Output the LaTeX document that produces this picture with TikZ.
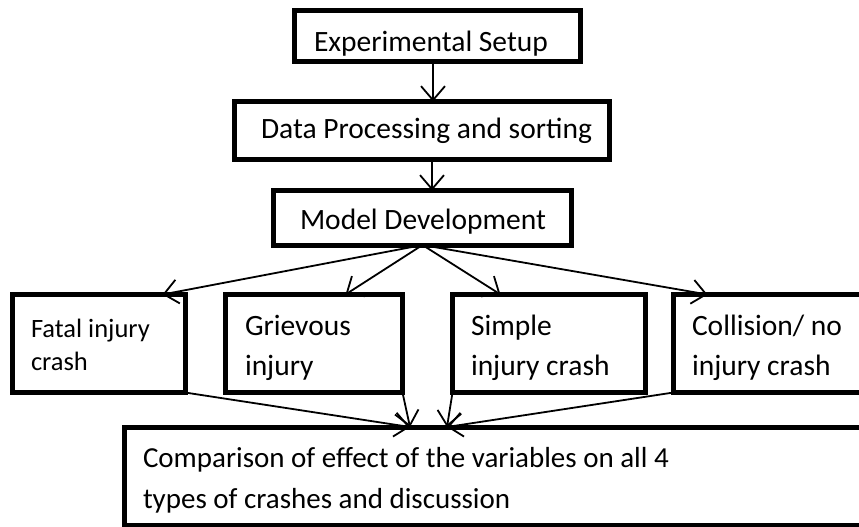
\documentclass[tikz,border=0pt]{standalone}
\usepackage{fontspec}
\setmainfont{Carlito}
\usetikzlibrary{arrows.meta}
\tikzset{
  box/.style={draw=black, line width=5pt, rectangle, inner sep=0pt, outer sep=0pt},
  lbl/.style={anchor=base west, inner sep=0pt, outer sep=0pt, font=\fontsize{29.5}{35}\selectfont},
  lblbot/.style={anchor=base west, inner sep=0pt, outer sep=0pt, font=\fontsize{29}{35}\selectfont},
  lblsm/.style={anchor=base west, inner sep=0pt, outer sep=0pt, font=\fontsize{26.5}{32}\selectfont},
  arr/.style={line width=1.8pt, -{Straight Barb[length=14pt,width=24pt,line width=1.8pt]}},
}
\begin{document}
\begin{tikzpicture}[x=1pt,y=-1pt]
\useasboundingbox (0,0) rectangle (859,527);
\clip (0,0) rectangle (859,527);
% boxes
\node[box, minimum width=286pt, minimum height=51pt] (setup) at (437.5,36) {};
\node[box, minimum width=375pt, minimum height=58pt] (data) at (421.5,130.5) {};
\node[box, minimum width=298pt, minimum height=54.5pt] (model) at (422.5,217.75) {};
\node[box, minimum width=172.5pt, minimum height=98pt] (fatal) at (98.75,343.5) {};
\node[box, minimum width=177pt, minimum height=98pt] (griev) at (314,343.5) {};
\node[box, minimum width=193pt, minimum height=98pt] (simple) at (549,343.5) {};
\node[box, minimum width=240pt, minimum height=98pt] (coll) at (793.5,343.5) {};
\node[box, minimum width=800pt, minimum height=98.5pt] (bottom) at (524,476.25) {};
% texts
\node[lbl] (tsetup) at (314,52) {Experimental Setup};
\node[lbl] (tdata) at (261,138) {Data Processing and sorting};
\node[lbl] (tmodel) at (300,229) {Model Development};
\node[lblsm] (tfatalA) at (31,337) {Fatal injury};
\node[lblsm] (tfatalB) at (31,370) {crash};
\node[lbl] (tgrievA) at (245,335) {Grievous};
\node[lbl] (tgrievB) at (245,375) {injury};
\node[lbl] (tsimpleA) at (471,335) {Simple};
\node[lbl] (tsimpleB) at (471,375) {injury crash};
\node[lbl] (tcollA) at (692,335) {Collision/ no};
\node[lbl] (tcollB) at (692,375) {injury crash};
\node[lblbot] (tbotA) at (143,467) {Comparison of effect of the variables on all 4};
\node[lblbot] (tbotB) at (143,508) {types of crashes and discussion};
% connectors
\draw[arr] ([xshift=-4.5pt]setup.south) -- ([xshift=-4.5pt]setup.south |- data.north);
\draw[arr] ([xshift=10.5pt]data.south) -- ([xshift=10.5pt]data.south |- model.north);
\draw[arr] (model.south) -- ([xshift=150pt]fatal.north west);
\draw[arr] (model.south) -- ([xshift=120pt]griev.north west);
\draw[arr] (model.south) -- ([xshift=48pt]simple.north west);
\draw[arr] (model.south) -- ([xshift=34pt]coll.north west);
\coordinate (tipA) at ([xshift=286pt]bottom.north west);
\coordinate (tipB) at ([xshift=323pt]bottom.north west);
\draw[arr] (fatal.south east) -- (tipA);
\draw[arr] (griev.south east) -- (tipA);
\draw[arr] (simple.south west) -- (tipB);
\draw[arr] (coll.south west) -- (tipB);
\end{tikzpicture}
\end{document}
